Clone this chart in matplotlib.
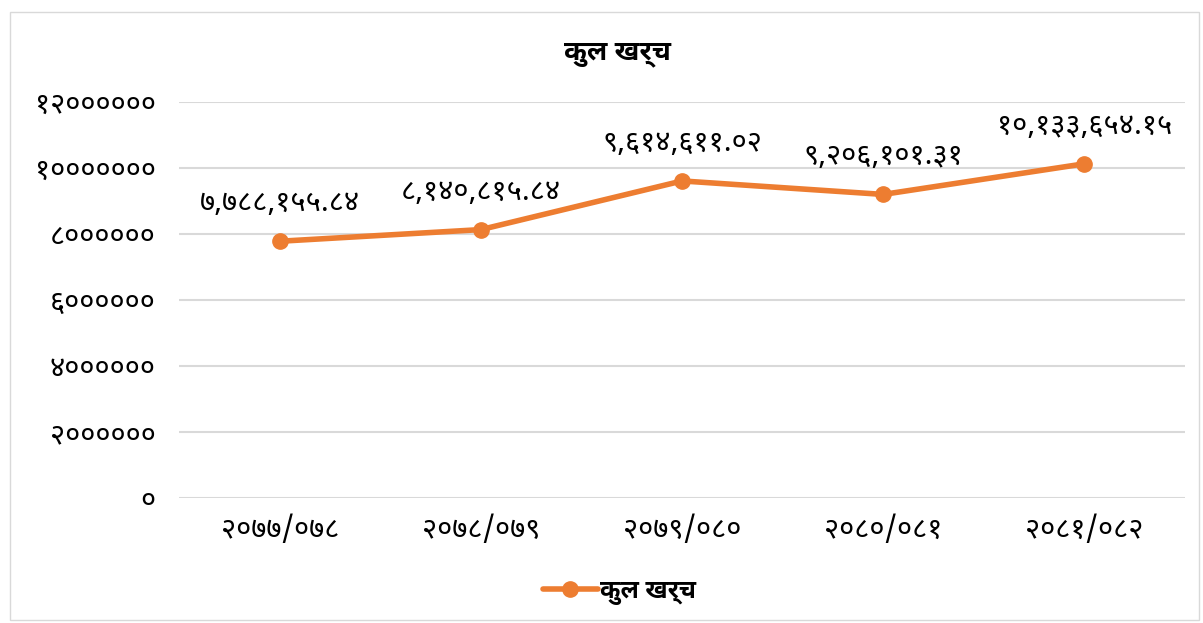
import matplotlib
matplotlib.use("Agg")
import matplotlib.pyplot as plt

plt.rcParams['font.family'] = ['Noto Sans Devanagari', 'Mukta', 'DejaVu Sans']
BOLD_FAMILY = ['Noto Sans Devanagari UI', 'Noto Sans Devanagari', 'DejaVu Sans']

# data
years = ['२०७७/०७८', '२०७८/०७९', '२०७९/०८०', '२०८०/०८१', '२०८१/०८२']
expenses = [7788155.84, 8140815.84, 9614611.02, 9206101.31, 10133654.15]
series_name = 'कुल खर्च'
yticks = [0, 2000000, 4000000, 6000000, 8000000, 10000000, 12000000]

DEV = str.maketrans('0123456789', '०१२३४५६७८९')


def to_dev(s):
    return str(s).translate(DEV)


def fmt_label(v):
    return to_dev(f"{v:,.2f}")


orange = '#ED7D31'
grid_col = '#D9D9D9'

fig = plt.figure(figsize=(12.03, 6.23), dpi=100)
ax = fig.add_axes([0.149, 0.2, 0.836, 0.636])

x = list(range(len(years)))
ax.plot(x, expenses, color=orange, linewidth=4, marker='o', markersize=11,
        label=series_name, zorder=3, solid_capstyle='round')

for xi, v in zip(x, expenses):
    ax.annotate(fmt_label(v), (xi, v), xytext=(0, 27), textcoords='offset points',
                ha='center', va='center', fontsize=21, color='black')

ax.set_xlim(-0.5, len(years) - 0.5)
ax.set_ylim(0, 12000000)
ax.set_yticks(yticks)
ax.set_yticklabels([to_dev(t) for t in yticks], fontsize=21)
ax.set_xticks(x)
ax.set_xticklabels(years, fontsize=21)
ax.tick_params(length=0)
ax.tick_params(axis='x', pad=12)
ax.tick_params(axis='y', pad=17)
ax.grid(axis='y', color=grid_col, linewidth=1.5)
ax.set_axisbelow(True)
for sp in ax.spines.values():
    sp.set_visible(False)

fig.text(0.513, 0.915, series_name, ha='center', va='center', fontsize=20,
         fontweight='bold', family=BOLD_FAMILY)

leg = fig.legend(loc='center', bbox_to_anchor=(0.515, 0.05), frameon=False,
                 prop={'size': 18, 'weight': 'bold', 'family': BOLD_FAMILY},
                 handlelength=2.2, handletextpad=0.1)

# outer chart border
border = plt.Rectangle((0.008, 0.005), 0.989, 0.975, transform=fig.transFigure,
                       fill=False, edgecolor='#D9D9D9', linewidth=1)
fig.patches.append(border)

fig.savefig('out.png', dpi=100)
